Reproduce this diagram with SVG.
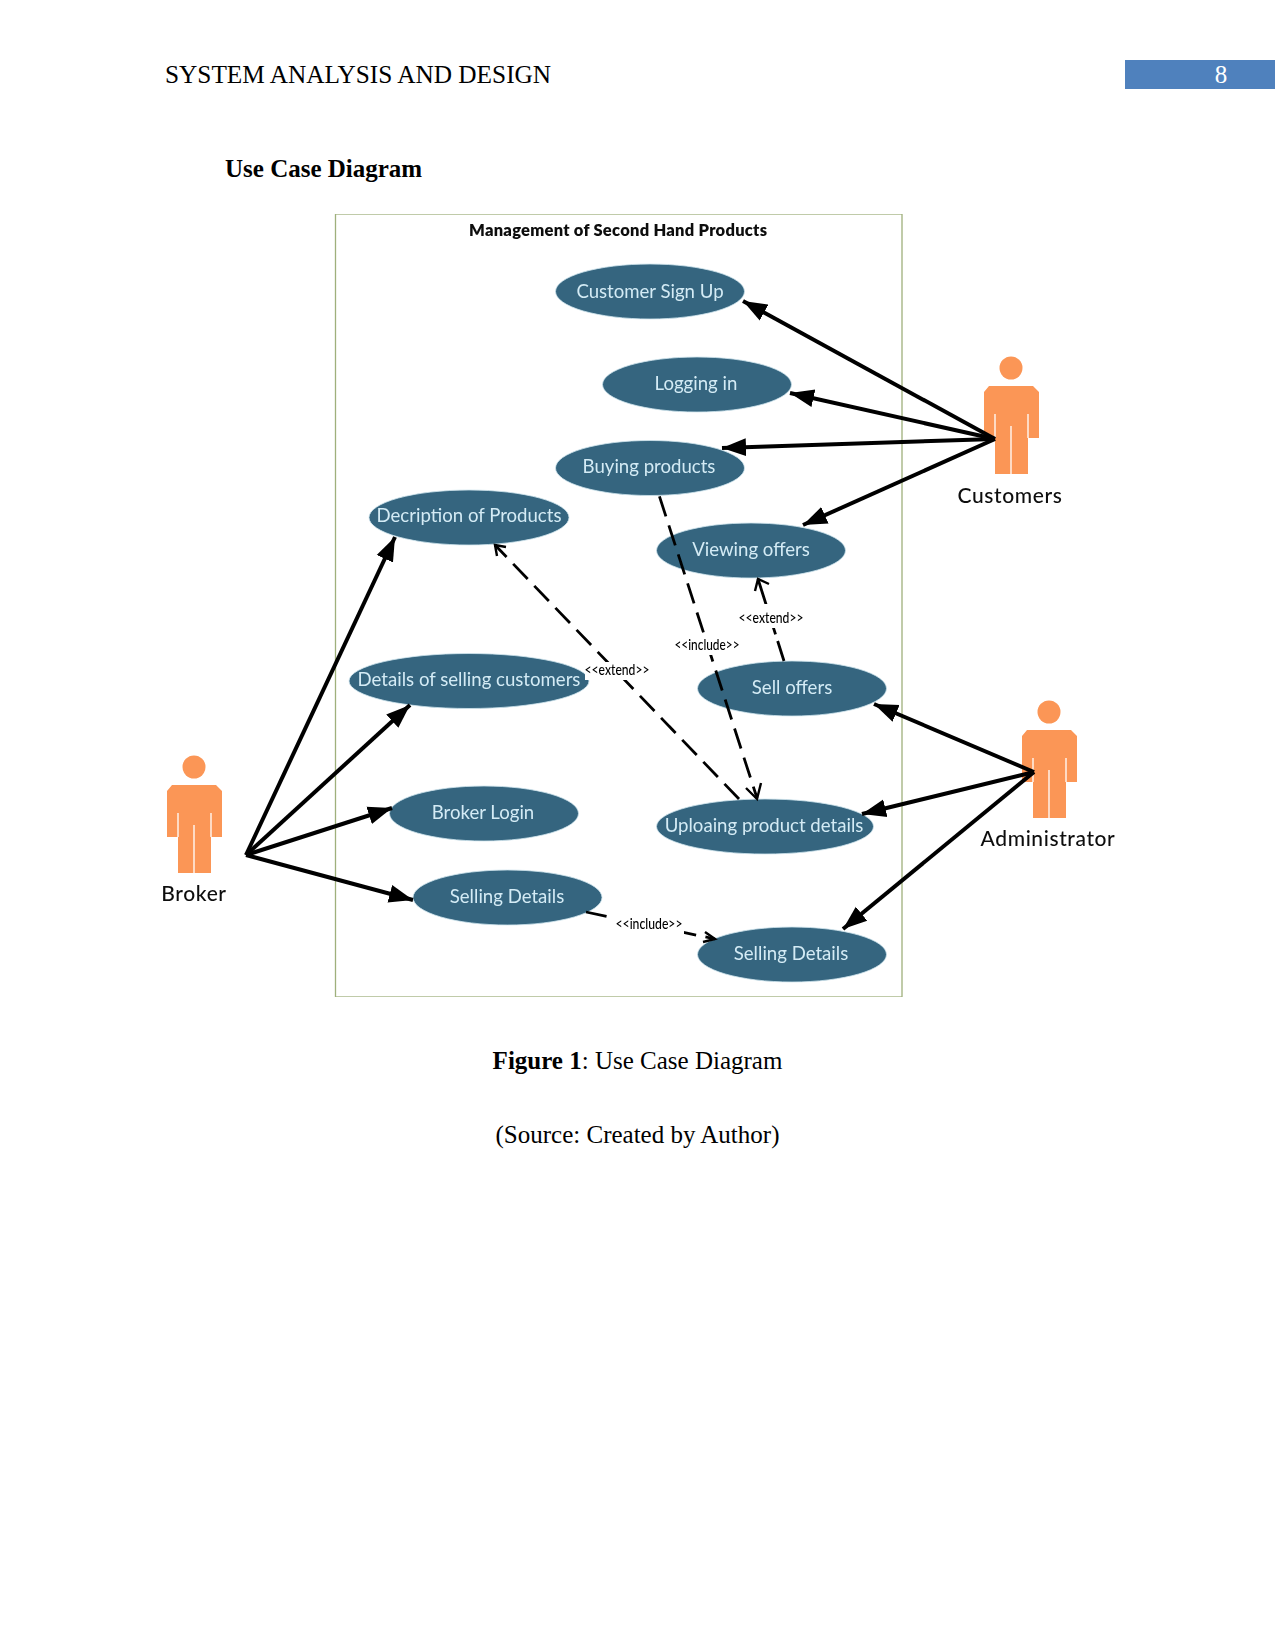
<svg xmlns="http://www.w3.org/2000/svg" xmlns:xlink="http://www.w3.org/1999/xlink" width="1275" height="1650" viewBox="0 0 1275 1650">
  <style>
    .page { font-family: "Liberation Serif", "Times New Roman", serif; fill: #000; font-size: 25px; }
    .case ellipse { fill: #34657f; stroke: #cfe4ee; stroke-width: 0.8; }
    .case text { font-family: Lato, Carlito, "Liberation Sans", sans-serif; font-size: 18.6px; fill: #d4ebf5; text-anchor: middle; }
    .actor text { font-family: Lato, Carlito, "Liberation Sans", sans-serif; font-size: 21px; font-weight: 500; fill: #111; text-anchor: middle; letter-spacing: 0.6px; }
    .assoc { stroke: #000; stroke-width: 4; fill: none; }
    .dep { stroke: #000; stroke-width: 2.8; fill: none; stroke-dasharray: 21 9.5; }
    .open { stroke: #000; stroke-width: 2.4; fill: none; }
    .tag rect { fill: #fff; }
    .tag text { font-family: Lato, Carlito, "Liberation Sans", sans-serif; font-size: 15px; font-weight: 500; fill: #000; text-anchor: middle; }
    .soft { filter: url(#soften); }
  </style>
  <defs>
    <filter id="soften" x="0" y="0" width="100%" height="100%"><feGaussianBlur stdDeviation="0.4"/></filter>
    <g id="figure">
      <circle cx="0" cy="-32" r="11.5" fill="#fb9656"/>
      <path d="M-22-14H22L28-8V38H17V74H-16V38H-27V-8Z" fill="#fb9656"/>
      <path d="M-16 14V38M17 14V38M0 26V74" stroke="#fff" stroke-width="1.3" fill="none"/>
    </g>
    <marker id="solid" markerUnits="userSpaceOnUse" markerWidth="26" markerHeight="20" refX="24" refY="10" orient="auto">
      <path d="M0 1L24 10L0 19Z" fill="#000"/>
    </marker>
  </defs>

  <rect width="1275" height="1650" fill="#fff"/>

  <text class="page" x="165" y="83" style="font-size:25.3px">SYSTEM ANALYSIS AND DESIGN</text>
  <rect x="1125" y="60" width="150" height="29" fill="#4f81bd"/>
  <text class="page" x="1221" y="83" text-anchor="middle" style="fill:#fff">8</text>
  <text class="page" x="225" y="177" style="font-weight:bold">Use Case Diagram</text>

  <g class="soft">
    <g id="system-boundary">
      <rect x="335.5" y="214" width="566.5" height="783" fill="#fff" stroke="#9fb07c" stroke-width="1.3"/>
      <text x="618" y="236" text-anchor="middle" font-family="Lato, Carlito, 'Liberation Sans', sans-serif" font-size="16.5" font-weight="800" fill="#111" textLength="298" lengthAdjust="spacing">Management of Second Hand Products</text>
    </g>

    <g id="actor-customers" class="actor"><use xlink:href="#figure" href="#figure" x="1011" y="400"/><text x="1010" y="503">Customers</text></g>
    <g id="actor-administrator" class="actor"><use xlink:href="#figure" href="#figure" x="1049" y="744"/><text x="1048" y="846">Administrator</text></g>
    <g id="actor-broker" class="actor"><use xlink:href="#figure" href="#figure" x="194" y="799"/><text x="194" y="901">Broker</text></g>

    <g id="uc-signup" class="case"><ellipse cx="650" cy="291.5" rx="94.5" ry="27.5"/><text x="650" y="298">Customer Sign Up</text></g>
    <g id="uc-login" class="case"><ellipse cx="697" cy="384.5" rx="94.5" ry="27.5"/><text x="696" y="390">Logging in</text></g>
    <g id="uc-buying" class="case"><ellipse cx="650" cy="468" rx="94.5" ry="27.5"/><text x="649" y="473">Buying products</text></g>
    <g id="uc-description" class="case"><ellipse cx="469" cy="517.5" rx="100" ry="27.5"/><text x="469" y="522">Decription of Products</text></g>
    <g id="uc-viewing" class="case"><ellipse cx="751" cy="550.5" rx="94.5" ry="27.5"/><text x="751" y="556">Viewing offers</text></g>
    <g id="uc-customers" class="case"><ellipse cx="469" cy="681" rx="120" ry="27.5"/><text x="469" y="686">Details of selling customers</text></g>
    <g id="uc-sell" class="case"><ellipse cx="792" cy="688.5" rx="94.5" ry="27.5"/><text x="792" y="694">Sell offers</text></g>
    <g id="uc-upload" class="case"><ellipse cx="765" cy="826.5" rx="108.5" ry="27.5"/><text x="764" y="832">Uploaing product details</text></g>
    <g id="uc-broker-login" class="case"><ellipse cx="484" cy="813.5" rx="94.5" ry="27.5"/><text x="483" y="819">Broker Login</text></g>
    <g id="uc-selling-a" class="case"><ellipse cx="507.5" cy="897.5" rx="94.5" ry="27.5"/><text x="507" y="903">Selling Details</text></g>
    <g id="uc-selling-b" class="case"><ellipse cx="792" cy="954.5" rx="94.5" ry="27.5"/><text x="791" y="960">Selling Details</text></g>

    <g id="connectors">
      <path class="assoc" d="M995 439L743 301" marker-end="url(#solid)"/>
      <path class="assoc" d="M995 439L790 393" marker-end="url(#solid)"/>
      <path class="assoc" d="M995 439L722 448" marker-end="url(#solid)"/>
      <path class="assoc" d="M995 439L803 525" marker-end="url(#solid)"/>
      <path class="assoc" d="M246 855L395 537" marker-end="url(#solid)"/>
      <path class="assoc" d="M246 855L410 705" marker-end="url(#solid)"/>
      <path class="assoc" d="M246 855L392 808" marker-end="url(#solid)"/>
      <path class="assoc" d="M246 855L413 900" marker-end="url(#solid)"/>
      <path class="assoc" d="M1034 772L874 704" marker-end="url(#solid)"/>
      <path class="assoc" d="M1034 772L862 814" marker-end="url(#solid)"/>
      <path class="assoc" d="M1034 772L843 929" marker-end="url(#solid)"/>

      <path class="dep" d="M757 798L659 495" stroke-dashoffset="9"/>
      <path class="open" d="M746 788L757 799L761 783"/>
      <path class="dep" d="M739 799L495 545"/>
      <path class="open" d="M497 556L495 545L506 547"/>
      <path class="dep" d="M784 661L758 579" style="stroke-dasharray:21 7 60"/>
      <path class="open" d="M755 591L758 579L769 584"/>
      <path class="dep" d="M586 912L715 939"/>
      <path class="open" d="M705 932L715 939L703 942"/>

      <g class="tag"><rect x="672" y="636" width="68" height="19"/><text x="707" y="650" textLength="65" lengthAdjust="spacingAndGlyphs">&lt;&lt;include&gt;&gt;</text></g>
      <g class="tag"><rect x="736" y="604" width="68" height="24"/><text x="771" y="623" textLength="65" lengthAdjust="spacingAndGlyphs">&lt;&lt;extend&gt;&gt;</text></g>
      <g class="tag"><rect x="585" y="662" width="66" height="18"/><text x="617" y="675" textLength="65" lengthAdjust="spacingAndGlyphs">&lt;&lt;extend&gt;&gt;</text></g>
      <g class="tag"><rect x="612" y="915" width="72" height="19"/><text x="649" y="929" textLength="67" lengthAdjust="spacingAndGlyphs">&lt;&lt;include&gt;&gt;</text></g>
    </g>
  </g>

  <text class="page" x="637.5" y="1069" text-anchor="middle"><tspan font-weight="bold">Figure 1</tspan>: Use Case Diagram</text>
  <text class="page" x="637.5" y="1143" text-anchor="middle">(Source: Created by Author)</text>
</svg>
